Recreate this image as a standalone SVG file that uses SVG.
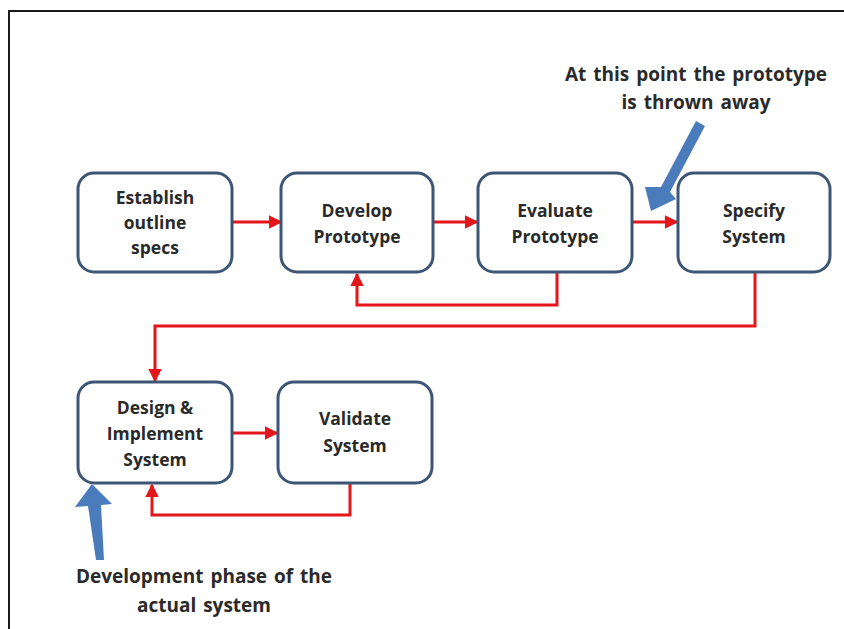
<svg xmlns="http://www.w3.org/2000/svg" width="844" height="629" viewBox="0 0 844 629">
  <defs>
    <style>
      .box { fill: #ffffff; stroke: #3d5675; stroke-width: 3; }
      .lbl { font-family: "Open Sans", "Liberation Sans", sans-serif; font-weight: 700; font-size: 17.5px; fill: #2a2a2a; text-anchor: middle; }
      .note { font-family: "Open Sans", "Liberation Sans", sans-serif; font-weight: 700; font-size: 19px; fill: #2a2a2a; text-anchor: middle; word-spacing: 2px; }
      .flow { fill: none; stroke: #e3161b; stroke-width: 3; marker-end: url(#ah); }
      .callout { fill: #4a7bba; }
    </style>
    <marker id="ah" viewBox="0 0 10 10" refX="9" refY="5" markerWidth="4.5" markerHeight="4.5" orient="auto" markerUnits="strokeWidth">
      <path d="M0,0 L10,5 L0,10 Z" fill="#e3161b"/>
    </marker>
  </defs>

  <rect width="844" height="629" fill="#ffffff"/>
  <!-- frame (open at right and bottom) -->
  <path d="M9,629 V11 H844" fill="none" stroke="#1a1a1a" stroke-width="2"/>

  <!-- connectors -->
  <g id="connectors">
    <path class="flow" d="M232,222 H281"/>
    <path class="flow" d="M433,222 H477"/>
    <path class="flow" d="M632,222 H677"/>
    <path class="flow" d="M557,272 V305 H357 V274"/>
    <path class="flow" d="M755,272 V326 H155 V381"/>
    <path class="flow" d="M232,433 H277"/>
    <path class="flow" d="M350,483 V515 H152 V485"/>
  </g>

  <!-- nodes -->
  <g id="establish">
    <rect class="box" x="78" y="173" width="154" height="99" rx="16"/>
    <text class="lbl" x="155" y="204">Establish</text>
    <text class="lbl" x="155" y="229">outline</text>
    <text class="lbl" x="155" y="254">specs</text>
  </g>
  <g id="develop">
    <rect class="box" x="281" y="173" width="152" height="99" rx="16"/>
    <text class="lbl" x="357" y="217">Develop</text>
    <text class="lbl" x="357" y="243">Prototype</text>
  </g>
  <g id="evaluate">
    <rect class="box" x="478" y="173" width="154" height="99" rx="16"/>
    <text class="lbl" x="555" y="217">Evaluate</text>
    <text class="lbl" x="555" y="243">Prototype</text>
  </g>
  <g id="specify">
    <rect class="box" x="678" y="173" width="152" height="99" rx="16"/>
    <text class="lbl" x="754" y="217">Specify</text>
    <text class="lbl" x="754" y="243">System</text>
  </g>
  <g id="design">
    <rect class="box" x="78" y="382" width="154" height="101" rx="16"/>
    <text class="lbl" x="155" y="414">Design &amp;</text>
    <text class="lbl" x="155" y="440">Implement</text>
    <text class="lbl" x="155" y="466">System</text>
  </g>
  <g id="validate">
    <rect class="box" x="278" y="382" width="154" height="101" rx="16"/>
    <text class="lbl" x="355" y="425">Validate</text>
    <text class="lbl" x="355" y="452">System</text>
  </g>

  <!-- callouts -->
  <g id="note-throwaway">
    <text class="note" x="696" y="81">At this point the prototype</text>
    <text class="note" x="696" y="109">is thrown away</text>
    <polygon class="callout" points="696,121 705,126 670,192 676,199 651,211 645,187 661,187"/>
  </g>
  <g id="note-development">
    <text class="note" x="204" y="583">Development phase of the</text>
    <text class="note" x="204" y="612">actual system</text>
    <polygon class="callout" points="96,560 104,560 101,505 112,504 92,484 75,507 88,506"/>
  </g>
</svg>
